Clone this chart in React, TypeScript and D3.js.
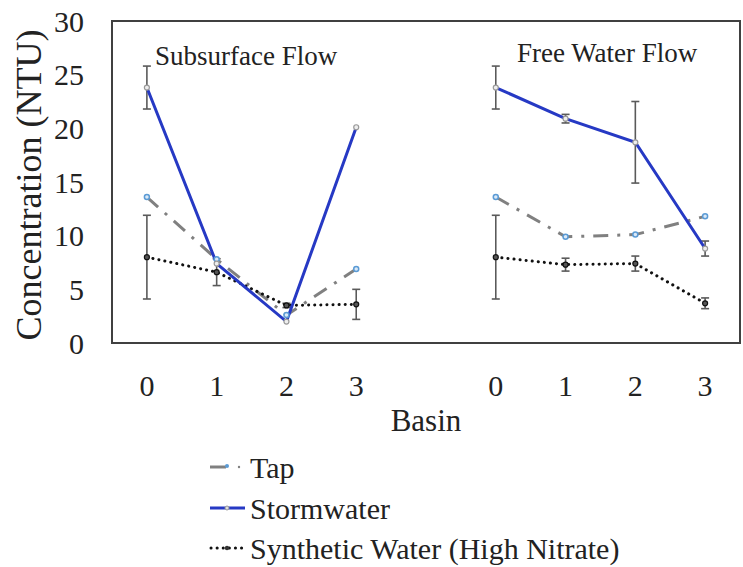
import React from "react";
import * as d3 from "d3";

const panels = ["Subsurface Flow", "Free Water Flow"];
const basins = ["0", "1", "2", "3"];
const slots = ["S0", "S1", "S2", "S3", "gap", "F0", "F1", "F2", "F3"];
const yTicks = [0, 5, 10, 15, 20, 25, 30];

const tapSub = [13.6, 7.8, 2.6, 6.9];
const stormSub = [23.8, 7.4, 2.0, 20.1];
const synthSub = [8.0, 6.6, 3.5, 3.6];
const tapFree = [13.6, 9.9, 10.1, 11.8];
const stormFree = [23.8, 20.9, 18.7, 8.8];
const synthFree = [8.0, 7.3, 7.4, 3.7];

const stormSubErr = [2.0, 0, 0, 0];
const synthSubErr = [3.9, 1.25, 0.2, 1.4];
const stormFreeErr = [2.0, 0.4, 3.8, 0.7];
const synthFreeErr = [3.9, 0.6, 0.7, 0.5];

const legendLabels = ["Tap", "Stormwater", "Synthetic Water (High Nitrate)"];

const W = 743;
const H = 567;
const FONT = "Liberation Serif, Tinos, Times New Roman, Times, DejaVu Serif, serif";
const left = 112, right = 740, top = 21, bottom = 343;

const BLUE = "#2639c4";
const GRAY = "#808080";
const ERR = "#5a5a5a";

export default function App() {
  const x = d3.scaleBand<string>().domain(slots).range([left, right]);
  const xc = (s: string) => (x(s) as number) + x.bandwidth() / 2;
  const y = d3.scaleLinear().domain([0, 30]).range([bottom, top]);

  const panelSeries = [
    { prefix: "S", tap: tapSub, storm: stormSub, synth: synthSub, stormErr: stormSubErr, synthErr: synthSubErr },
    { prefix: "F", tap: tapFree, storm: stormFree, synth: synthFree, stormErr: stormFreeErr, synthErr: synthFreeErr },
  ];

  const line = (prefix: string, vals: number[]) =>
    d3.line<number>().x((_, i) => xc(prefix + i)).y((v) => y(v))(vals) as string;

  const errBars = (prefix: string, vals: number[], errs: number[], key: string) =>
    vals.map((v, i) =>
      errs[i] > 0 ? (
        <g key={key + i} stroke={ERR} strokeWidth={1.6}>
          <line x1={xc(prefix + i)} x2={xc(prefix + i)} y1={y(v - errs[i])} y2={y(v + errs[i])} />
          <line x1={xc(prefix + i) - 4} x2={xc(prefix + i) + 4} y1={y(v - errs[i])} y2={y(v - errs[i])} />
          <line x1={xc(prefix + i) - 4} x2={xc(prefix + i) + 4} y1={y(v + errs[i])} y2={y(v + errs[i])} />
        </g>
      ) : null
    );

  return (
    <svg width={W} height={H} style={{ position: "absolute", left: 0, top: 0, background: "#fff", fontFamily: FONT }}>
      <rect x={0} y={0} width={W} height={H} fill="#fff" />
      <rect x={left} y={top} width={right - left} height={bottom - top} fill="none" stroke="#404040" strokeWidth={2} />

      {yTicks.map((t) => (
        <text key={t} x={84} y={y(t)} dy="0.35em" textAnchor="end" fontSize={30} fill="#222">
          {t}
        </text>
      ))}
      <text transform={`translate(28,${(top + bottom) / 2 + 3}) rotate(-90)`} textAnchor="middle" dy="0.35em" fontSize={36} fill="#222">
        Concentration (NTU)
      </text>

      {panelSeries.map((p) =>
        basins.map((b, i) => (
          <text key={p.prefix + b} x={xc(p.prefix + i)} y={385} dy="0.35em" textAnchor="middle" fontSize={30} fill="#222">
            {b}
          </text>
        ))
      )}
      <text x={xc("gap")} y={431} textAnchor="middle" fontSize={31} fill="#222">
        Basin
      </text>

      <text x={155} y={65} fontSize={27} fill="#222">{panels[0]}</text>
      <text x={517} y={62} fontSize={27} fill="#222">{panels[1]}</text>

      {panelSeries.map((p) => (
        <g key={p.prefix}>
          {errBars(p.prefix, p.storm, p.stormErr, "se")}
          {errBars(p.prefix, p.synth, p.synthErr, "ye")}
          <path d={line(p.prefix, p.tap)} fill="none" stroke={GRAY} strokeWidth={3} strokeDasharray="15 9 3 9" />
          <path d={line(p.prefix, p.synth)} fill="none" stroke="#111" strokeWidth={3} strokeDasharray="0.1 6" strokeLinecap="round" />
          <path d={line(p.prefix, p.storm)} fill="none" stroke={BLUE} strokeWidth={3} />
          {p.tap.map((v, i) => (
            <circle key={"t" + i} cx={xc(p.prefix + i)} cy={y(v)} r={2.5} fill="#dbe9f7" stroke="#5b9bd5" strokeWidth={1.5} />
          ))}
          {p.storm.map((v, i) => (
            <circle key={"s" + i} cx={xc(p.prefix + i)} cy={y(v)} r={2.5} fill="#eee" stroke="#999" strokeWidth={1.2} />
          ))}
          {p.synth.map((v, i) => (
            <circle key={"y" + i} cx={xc(p.prefix + i)} cy={y(v)} r={2.5} fill="#555" stroke="#111" strokeWidth={1.2} />
          ))}
        </g>
      ))}

      <g>
        <line x1={210} x2={226} y1={467} y2={467} stroke={GRAY} strokeWidth={3} />
        <circle cx={227} cy={466} r={2} fill="#5b9bd5" />
        <circle cx={239} cy={467} r={1.2} fill={GRAY} />
        <text x={250} y={467} dy="0.35em" fontSize={30} fill="#222">{legendLabels[0]}</text>

        <line x1={210} x2={245} y1={508} y2={508} stroke={BLUE} strokeWidth={3} />
        <circle cx={227} cy={508} r={2} fill="#ddd" stroke="#999" strokeWidth={1} />
        <text x={250} y={508} dy="0.35em" fontSize={30} fill="#222">{legendLabels[1]}</text>

        <line x1={211} x2={245} y1={548} y2={548} stroke="#111" strokeWidth={3} strokeDasharray="0.1 6" strokeLinecap="round" />
        <circle cx={227} cy={548} r={2.2} fill="#333" />
        <text x={250} y={548} dy="0.35em" fontSize={30} fill="#222">{legendLabels[2]}</text>
      </g>
    </svg>
  );
}
